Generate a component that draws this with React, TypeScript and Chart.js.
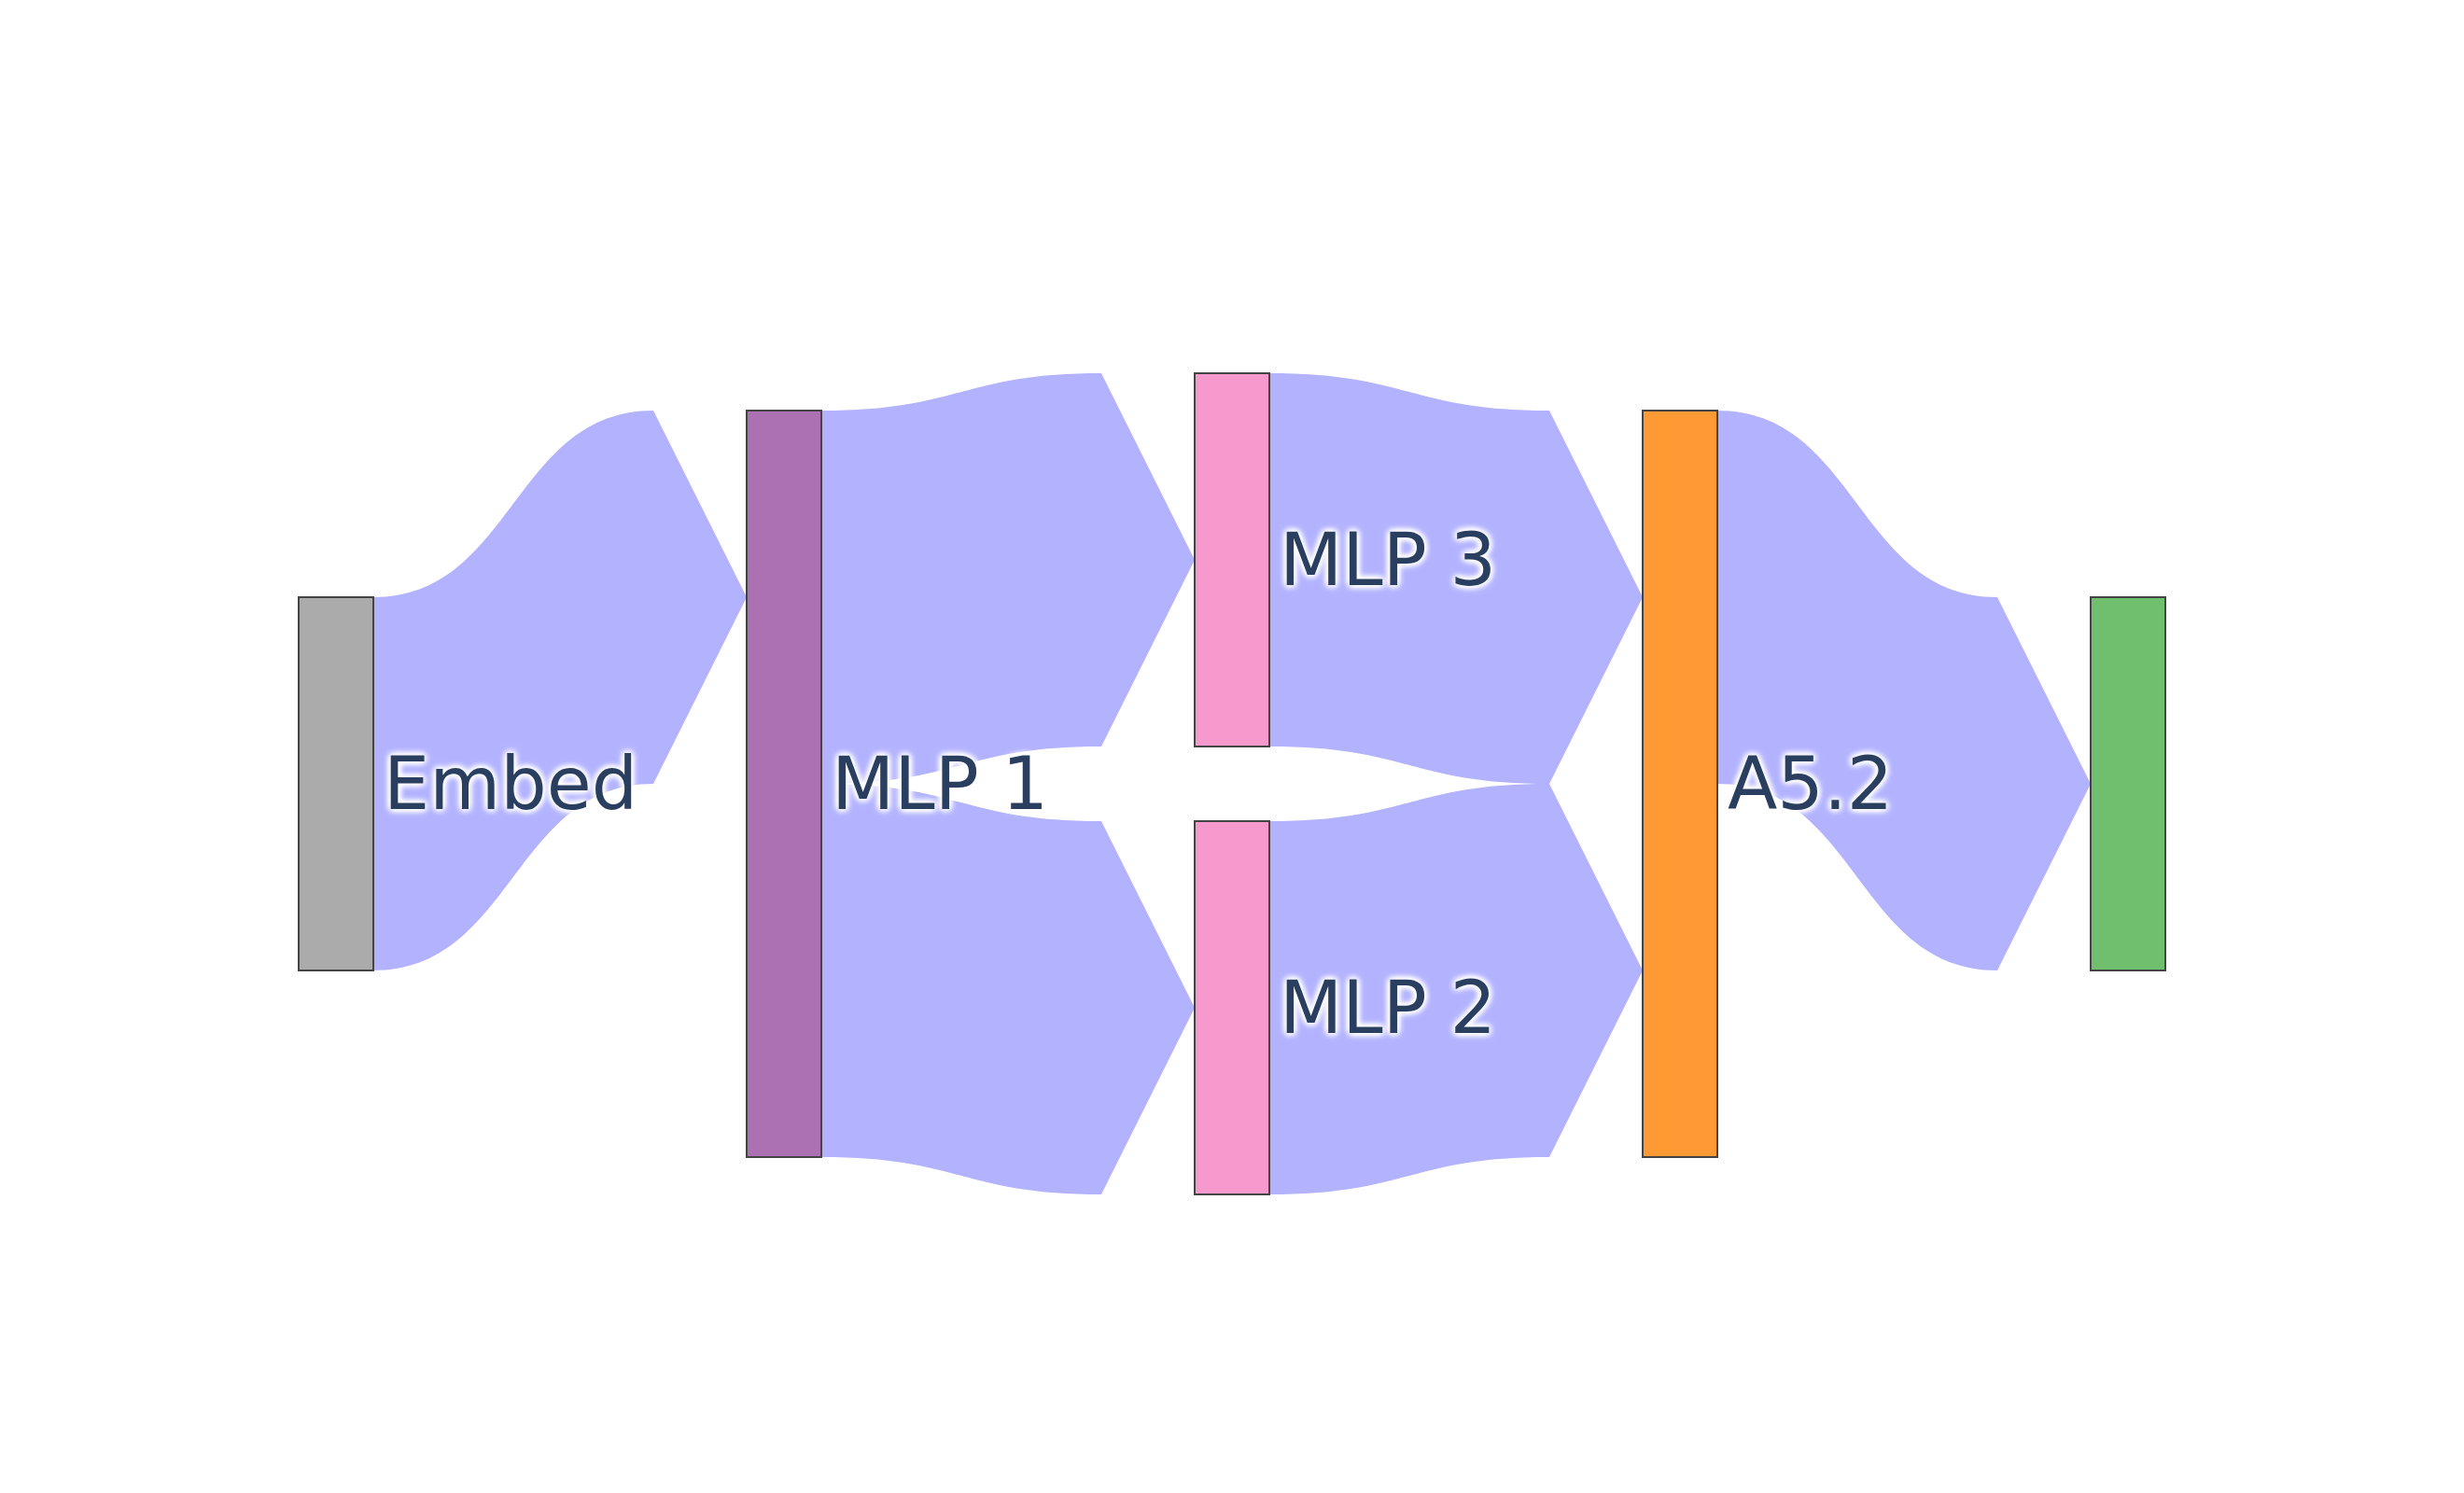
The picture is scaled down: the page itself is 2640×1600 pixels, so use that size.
import React, { useEffect, useRef } from "react";
import { Chart, registerables } from "chart.js";

Chart.register(...registerables);

// ---- data ----
const nodeLabels = ["Embed", "MLP 1", "MLP 3", "MLP 2", "A5.2", ""];
const nodeColumns = [0, 1, 2, 2, 3, 4];
const nodeColors = ["#ababab", "#ab71b2", "#f799cc", "#f799cc", "#ff9933", "#70bf6f"];
const linkSources = [0, 1, 1, 2, 3, 4];
const linkTargets = [1, 2, 3, 4, 4, 5];
const linkValues = [1, 1, 1, 1, 1, 1];
const linkColor = "rgba(0,0,255,0.3)";

// ---- style / layout constants ----
const NODE_PAD = 0.2; // in value units
const NODE_WIDTH = 80; // px
const ARROW_LEN = 100; // px
const FONT_SIZE = 78;
const LABEL_OFFSET = 11;

type NodeLayout = { value: number; y0: number; y1: number; col: number };

function computeLayout() {
  const n = nodeLabels.length;
  const inSum = new Array(n).fill(0);
  const outSum = new Array(n).fill(0);
  linkValues.forEach((v, i) => {
    outSum[linkSources[i]] += v;
    inSum[linkTargets[i]] += v;
  });
  const nodes: NodeLayout[] = nodeLabels.map((_, i) => ({
    value: Math.max(inSum[i], outSum[i]),
    y0: 0,
    y1: 0,
    col: nodeColumns[i],
  }));
  const cols = Array.from(new Set(nodeColumns)).sort((a, b) => a - b);
  const colTotals = cols.map((c) => {
    const idx = nodes.map((_, i) => i).filter((i) => nodeColumns[i] === c);
    return idx.reduce((s, i) => s + nodes[i].value, 0) + (idx.length - 1) * NODE_PAD;
  });
  const maxTotal = Math.max(...colTotals);
  const center = maxTotal / 2;
  cols.forEach((c, ci) => {
    let y = center - colTotals[ci] / 2;
    nodes.forEach((nd, i) => {
      if (nodeColumns[i] !== c) return;
      nd.y0 = y;
      nd.y1 = y + nd.value;
      y = nd.y1 + NODE_PAD;
    });
  });
  const links = linkValues.map((v, i) => ({ s: linkSources[i], t: linkTargets[i], v, sy: 0, ty: 0 }));
  nodes.forEach((nd, i) => {
    const outs = links.filter((l) => l.s === i).sort((a, b) => nodes[a.t].y0 - nodes[b.t].y0);
    let y = nd.y0;
    outs.forEach((l) => {
      l.sy = y;
      y += l.v;
    });
    const ins = links.filter((l) => l.t === i).sort((a, b) => nodes[a.s].y0 - nodes[b.s].y0);
    y = nd.y0;
    ins.forEach((l) => {
      l.ty = y;
      y += l.v;
    });
  });
  return { nodes, links, maxTotal };
}

const layout = computeLayout();

const sankeyPlugin = {
  id: "sankeyDraw",
  afterDatasetsDraw(chart: any) {
    const ctx: CanvasRenderingContext2D = chart.ctx;
    const xs = chart.scales.x;
    const ys = chart.scales.y;
    const { nodes, links } = layout;
    ctx.save();
    // links
    links.forEach((l) => {
      const x0 = xs.getPixelForValue(nodes[l.s].col) + NODE_WIDTH;
      const x1 = xs.getPixelForValue(nodes[l.t].col) - ARROW_LEN;
      const xm = (x0 + x1) / 2;
      const y0a = ys.getPixelForValue(l.sy);
      const y0b = ys.getPixelForValue(l.sy + l.v);
      const y1a = ys.getPixelForValue(l.ty);
      const y1b = ys.getPixelForValue(l.ty + l.v);
      ctx.beginPath();
      ctx.moveTo(x0, y0a);
      ctx.bezierCurveTo(xm, y0a, xm, y1a, x1, y1a);
      ctx.lineTo(x1 + ARROW_LEN, (y1a + y1b) / 2);
      ctx.lineTo(x1, y1b);
      ctx.bezierCurveTo(xm, y1b, xm, y0b, x0, y0b);
      ctx.closePath();
      ctx.fillStyle = linkColor;
      ctx.fill();
    });
    // nodes
    nodes.forEach((nd, i) => {
      const x = Math.round(xs.getPixelForValue(nd.col));
      const top = Math.round(ys.getPixelForValue(nd.y0));
      const bot = Math.round(ys.getPixelForValue(nd.y1));
      ctx.fillStyle = nodeColors[i];
      ctx.fillRect(x, top, NODE_WIDTH, bot - top);
      ctx.strokeStyle = "#444444";
      ctx.lineWidth = 2;
      ctx.strokeRect(x, top, NODE_WIDTH, bot - top);
    });
    // labels
    ctx.font = `${FONT_SIZE}px "DejaVu Sans"`;
    ctx.textAlign = "left";
    ctx.textBaseline = "alphabetic";
    nodes.forEach((nd, i) => {
      const label = nodeLabels[i];
      if (!label) return;
      const x = xs.getPixelForValue(nd.col) + NODE_WIDTH + LABEL_OFFSET;
      const yc = (ys.getPixelForValue(nd.y0) + ys.getPixelForValue(nd.y1)) / 2;
      const y = yc + FONT_SIZE * 0.35;
      ctx.save();
      ctx.fillStyle = "#ffffff";
      ctx.shadowColor = "#ffffff";
      ctx.shadowBlur = 6;
      const offs = [
        [2, 2],
        [-2, -2],
        [2, -2],
        [-2, 2],
      ];
      offs.forEach(([dx, dy]) => {
        ctx.shadowOffsetX = dx;
        ctx.shadowOffsetY = dy;
        ctx.fillText(label, x, y);
      });
      ctx.restore();
      ctx.fillStyle = "#2a3f5f";
      ctx.fillText(label, x, y);
    });
    ctx.restore();
  },
};

export default function App() {
  const canvasRef = useRef<HTMLCanvasElement | null>(null);
  useEffect(() => {
    if (!canvasRef.current) return;
    const chart = new Chart(canvasRef.current, {
      type: "scatter",
      data: { datasets: [{ data: [], pointRadius: 0 }] },
      options: {
        animation: false,
        responsive: true,
        maintainAspectRatio: false,
        devicePixelRatio: 1,
        layout: { padding: { left: 320, right: 400, top: 400, bottom: 320 } },
        plugins: { legend: { display: false }, tooltip: { enabled: false } },
        scales: {
          x: { type: "linear", min: 0, max: 4, display: false },
          y: { type: "linear", min: 0, max: layout.maxTotal, reverse: true, display: false },
        },
      },
      plugins: [sankeyPlugin],
    });
    return () => chart.destroy();
  }, []);
  return (
    <div style={{ position: "fixed", left: 0, top: 0, width: 2640, height: 1600, background: "#ffffff" }}>
      <canvas ref={canvasRef} />
    </div>
  );
}
